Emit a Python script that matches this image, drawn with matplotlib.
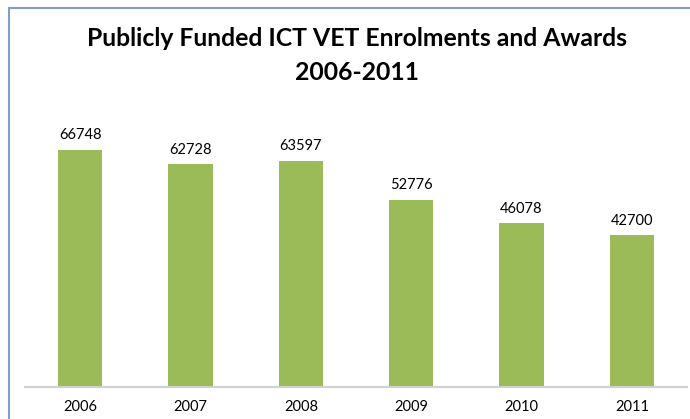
import matplotlib.pyplot as plt
from matplotlib.patches import Rectangle

years = ['2006', '2007', '2008', '2009', '2010', '2011']
enrolments = [66748, 62728, 63597, 52776, 46078, 42700]

W, H = 690, 419
fig = plt.figure(figsize=(W/100, H/100), dpi=100)
plt.rcParams['font.family'] = ['Lato', 'DejaVu Sans']

# chart border (cut off on the right and bottom)
fig.patches.append(Rectangle((9/W, -0.1), 1.2, (H-8)/H + 0.1, transform=fig.transFigure,
                             fill=False, edgecolor='#7F9DC6', linewidth=1.5))

ax = fig.add_axes([25/W, 32/H, 662/W, 284/H])
x = range(len(years))
ax.bar(x, enrolments, width=0.4, color='#9BBB59')
for i, v in zip(x, enrolments):
    ax.text(i, v + 2200, str(v), ha='center', va='bottom', fontsize=10.5, color='black')

ax.set_xlim(-0.5, len(years) - 0.5)
ax.set_ylim(0, 80000)
ax.set_xticks(list(x))
ax.set_xticklabels(years, fontsize=10.5)
ax.tick_params(axis='x', length=0, pad=9)
ax.set_yticks([])
for s in ['left', 'right', 'top']:
    ax.spines[s].set_visible(False)
ax.spines['bottom'].set_color('#D0D0D0')
ax.spines['bottom'].set_linewidth(1.5)

fig.text(357/W, 1 - 38/H, 'Publicly Funded ICT VET Enrolments and Awards', ha='center', va='center',
         fontsize=17.8, fontweight='bold')
fig.text(357/W, 1 - 72/H, '2006-2011', ha='center', va='center', fontsize=17.8, fontweight='bold')

fig.savefig('out.png', dpi=100)
